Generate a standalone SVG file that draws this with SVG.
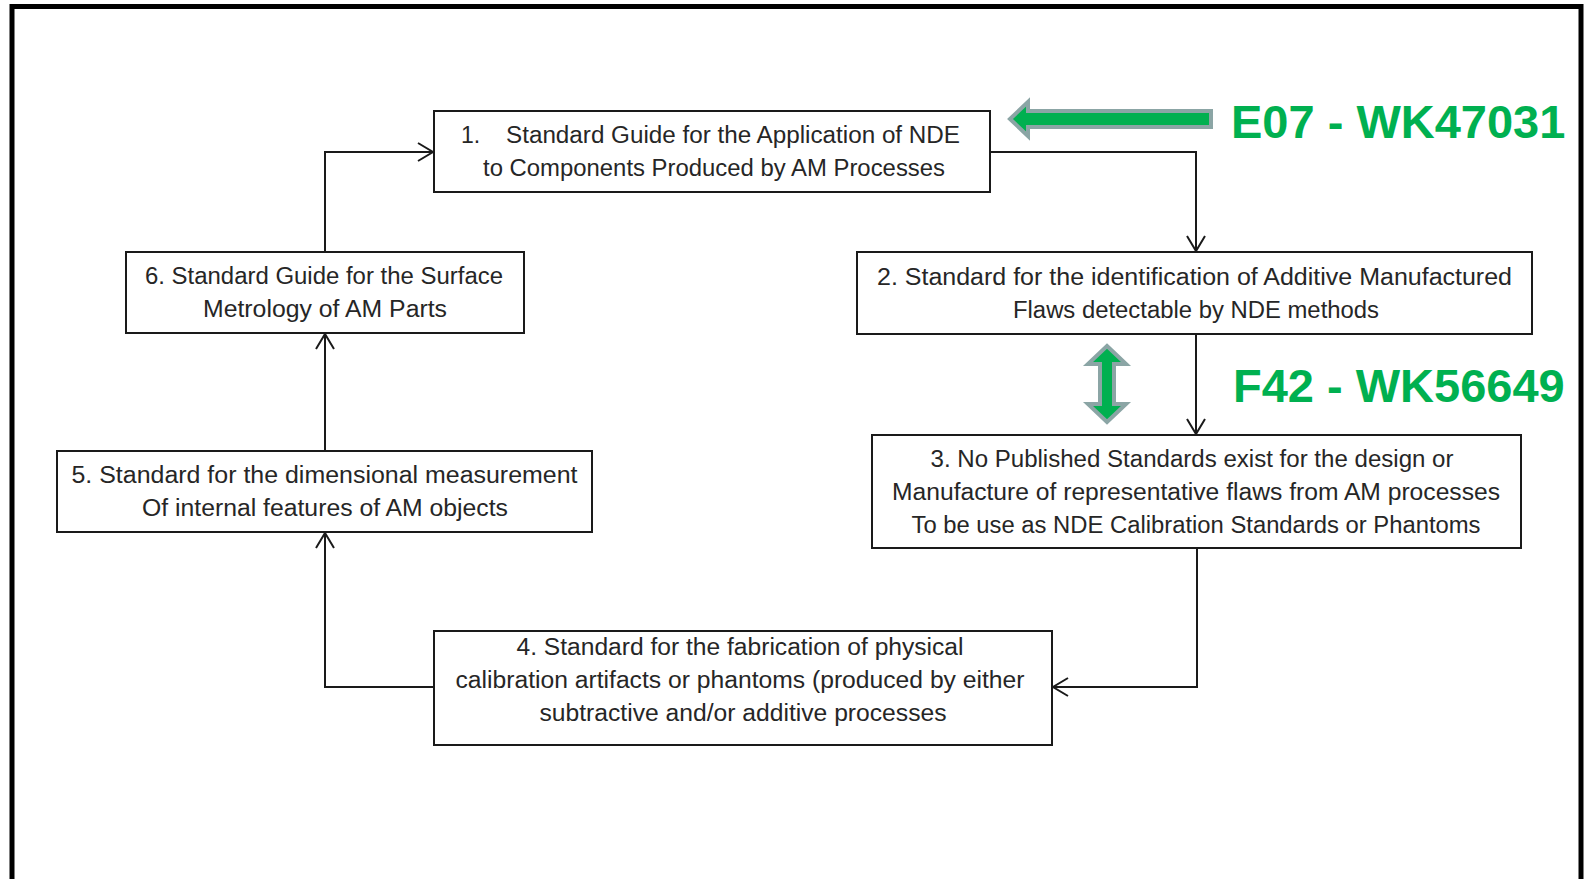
<svg xmlns="http://www.w3.org/2000/svg" width="1587" height="879" viewBox="0 0 1587 879">
<style>
.box{fill:#fff;stroke:#1a1a1a;stroke-width:2}
.t{font-family:"Liberation Sans",Arial,sans-serif;font-size:23px;fill:#262626;text-anchor:middle}
.ts{font-family:"Liberation Sans",Arial,sans-serif;font-size:23px;fill:#262626}
.conn{fill:none;stroke:#1a1a1a;stroke-width:2}
.lab{font-family:"Liberation Sans",Arial,sans-serif;font-weight:bold;font-size:47px;fill:#00B050}
.garrow{fill:#00B050;stroke:#8BA5A5;stroke-width:4;stroke-linejoin:miter}
</style>
<defs>
<marker id="ah" markerUnits="userSpaceOnUse" markerWidth="24" markerHeight="24" refX="0" refY="0" viewBox="-18 -12 20 24" orient="auto" overflow="visible">
<path d="M -15 -9 L 0 0 L -15 9" fill="none" stroke="#1a1a1a" stroke-width="2"/>
</marker>
</defs>
<rect x="0" y="0" width="1587" height="879" fill="#fff"/>
<rect id="frame" x="12" y="6.5" width="1569" height="875" fill="none" stroke="#000" stroke-width="5"/>

<g id="connectors">
<path class="conn" d="M325 252 V152 H433" marker-end="url(#ah)"/>
<path class="conn" d="M990 152 H1196 V251" marker-end="url(#ah)"/>
<path class="conn" d="M1196 334 V434" marker-end="url(#ah)"/>
<path class="conn" d="M1197 548 V687 H1053" marker-end="url(#ah)"/>
<path class="conn" d="M434 687 H325 V533" marker-end="url(#ah)"/>
<path class="conn" d="M325 451 V334" marker-end="url(#ah)"/>
</g>

<g id="node1">
<rect class="box" x="434" y="111" width="556" height="81"/>
<text class="ts" x="461" y="143">1.</text>
<text class="ts" x="506" y="143" textLength="454" lengthAdjust="spacingAndGlyphs">Standard Guide for the Application of NDE</text>
<text class="t" x="714" y="176" textLength="462" lengthAdjust="spacingAndGlyphs">to Components Produced by AM Processes</text>
</g>

<g id="node2">
<rect class="box" x="857" y="252" width="675" height="82"/>
<text class="t" x="1194.5" y="284.5" textLength="635" lengthAdjust="spacingAndGlyphs">2. Standard for the identification of Additive Manufactured</text>
<text class="t" x="1196" y="317.5" textLength="366" lengthAdjust="spacingAndGlyphs">Flaws detectable by NDE methods</text>
</g>

<g id="node3">
<rect class="box" x="872" y="435" width="649" height="113"/>
<text class="t" x="1192" y="466.5" textLength="523" lengthAdjust="spacingAndGlyphs">3. No Published Standards exist for the design or</text>
<text class="t" x="1196" y="499.5" textLength="608" lengthAdjust="spacingAndGlyphs">Manufacture of representative flaws from AM processes</text>
<text class="t" x="1196" y="532.5" textLength="569" lengthAdjust="spacingAndGlyphs">To be use as NDE Calibration Standards or Phantoms</text>
</g>

<g id="node4">
<rect class="box" x="434" y="631" width="618" height="114"/>
<text class="t" x="740" y="655" textLength="447" lengthAdjust="spacingAndGlyphs">4. Standard for the fabrication of physical</text>
<text class="t" x="740" y="688" textLength="569" lengthAdjust="spacingAndGlyphs">calibration artifacts or phantoms (produced by either</text>
<text class="t" x="743" y="721" textLength="407" lengthAdjust="spacingAndGlyphs">subtractive and/or additive processes</text>
</g>

<g id="node5">
<rect class="box" x="57" y="451" width="535" height="81"/>
<text class="t" x="324.5" y="483" textLength="506" lengthAdjust="spacingAndGlyphs">5. Standard for the dimensional measurement</text>
<text class="t" x="325" y="516" textLength="366" lengthAdjust="spacingAndGlyphs">Of internal features of AM objects</text>
</g>

<g id="node6">
<rect class="box" x="126" y="252" width="398" height="81"/>
<text class="t" x="324" y="284" textLength="358" lengthAdjust="spacingAndGlyphs">6. Standard Guide for the Surface</text>
<text class="t" x="325" y="317" textLength="244" lengthAdjust="spacingAndGlyphs">Metrology of AM Parts</text>
</g>

<g id="label-e07">
<polygon class="garrow" points="1010,119 1028,102 1028,111 1211,111 1211,127 1028,127 1028,136"/>
<text class="lab" x="1231" y="138">E07 - WK47031</text>
</g>

<g id="label-f42">
<polygon class="garrow" points="1107,346 1126,364 1114,364 1114,404 1126,404 1107,422 1088,404 1100,404 1100,364 1088,364"/>
<text class="lab" x="1233" y="402">F42 - WK56649</text>
</g>
</svg>
